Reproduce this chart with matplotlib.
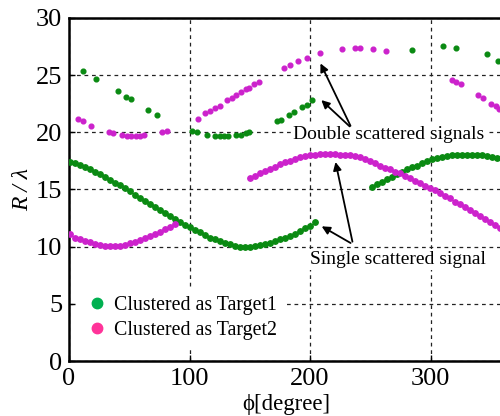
import matplotlib
matplotlib.use("Agg")
import matplotlib.pyplot as plt
from matplotlib.lines import Line2D

# ---- data (phi in degree, R/lambda) ----
# single scattered, target 1 (green), first branch
g1_phi = [0.8, 5, 9.1, 13.3, 17.4, 21.6, 25.7, 29.9, 34, 38.2, 42.3, 46.5, 50.6, 54.8, 58.9,
          63.1, 67.2, 71.4, 75.5, 79.7, 83.8, 88, 92.1, 96.3, 100.4, 104.6, 108.7, 112.9, 117,
          121.2, 125.3, 129.5, 133.6, 137.8, 141.9, 146, 150.2, 154.4, 158.5, 162.7, 166.8,
          171, 175.1, 179.3, 183.4, 187.6, 191.7, 195.9, 200, 204.2]
g1_r = [17.43, 17.3, 17.1, 16.94, 16.77, 16.55, 16.35, 16.08, 15.85, 15.6, 15.38, 15.1, 14.83,
        14.55, 14.27, 13.98, 13.7, 13.45, 13.2, 12.97, 12.7, 12.4, 12.2, 11.9, 11.7, 11.46,
        11.26, 11.0, 10.8, 10.64, 10.5, 10.35, 10.2, 10.09, 10.0, 9.96, 10.0, 10.06, 10.15,
        10.23, 10.35, 10.5, 10.64, 10.8, 10.95, 11.14, 11.37, 11.6, 11.85, 12.15]

# single scattered, target 1 (green), second branch
g2_phi = [251.2, 255.3, 259.5, 263.6, 267.8, 271.9, 276.1, 280.2, 284.4, 288.5, 292.7, 296.8,
          301, 305.1, 309.3, 313.4, 317.6, 321.7, 325.9, 330, 334.2, 338.4, 342.5, 346.6,
          350.8, 354.9]
g2_r = [15.25, 15.48, 15.68, 15.9, 16.1, 16.33, 16.56, 16.77, 16.94, 17.08, 17.3, 17.47, 17.64,
        17.73, 17.82, 17.93, 18.0, 18.02, 18.04, 18.04, 18.04, 18.04, 18.0, 17.96, 17.87, 17.78]

# single scattered, target 2 (magenta)
m1_phi = [0.8, 5, 9.1, 13.3, 17.4, 21.6, 25.7, 29.9, 34, 38.2, 42.3, 46.5, 50.6, 54.8, 58.9,
          63.1, 67.2, 71.4, 75.5, 79.7, 83.8, 88]
m1_r = [11.08, 10.8, 10.64, 10.5, 10.4, 10.27, 10.18, 10.1, 10.09, 10.09, 10.09, 10.15, 10.3,
        10.45, 10.6, 10.75, 10.93, 11.1, 11.3, 11.52, 11.75, 12.0]

m2_phi = [150.2, 154.4, 158.5, 162.7, 166.8, 171, 175.1, 179.3, 183.4, 187.6, 191.7, 195.9,
          200, 204.2, 208.3, 212.5, 216.6, 220.8, 224.9, 229, 233.2, 237.3, 241.5, 245.6,
          249.8, 253.9, 258.1, 262.2, 266.4, 270.5, 274.7, 278.8, 283, 287.1, 291.3, 295.4,
          299.6, 303.7, 307.9, 312, 316.2, 320.3, 324.5, 328.6, 332.8, 336.9, 341.1, 345.2,
          349.4, 353.5, 357.6]
m2_r = [15.98, 16.2, 16.4, 16.6, 16.8, 17.0, 17.2, 17.38, 17.52, 17.67, 17.8, 17.93, 18.02,
        18.05, 18.06, 18.06, 18.06, 18.06, 18.05, 18.03, 18.0, 17.93, 17.8, 17.67, 17.5, 17.3,
        17.08, 16.9, 16.77, 16.56, 16.4, 16.18, 15.98, 15.77, 15.54, 15.33, 15.16, 14.96,
        14.72, 14.46, 14.23, 13.93, 13.7, 13.5, 13.2, 12.97, 12.68, 12.4, 12.18, 11.9, 11.6]

# double scattered, target 1 (green)
gd_phi = [11.9, 22.4, 40.9, 47.3, 51.7, 65.8, 73.3, 102, 106.5, 114.3, 121, 125, 129, 132,
          139, 142.5, 146.6, 149.6, 172.3, 175.9, 182.8, 186.7, 193.6, 197.3, 201.4, 284.4,
          310.6, 321.2, 346.6, 356.3]
gd_r = [25.4, 24.7, 23.6, 23.1, 22.9, 21.95, 21.5, 20.1, 20.0, 19.77, 19.7, 19.7, 19.7, 19.7,
        19.73, 19.73, 19.97, 20.06, 21.0, 21.1, 21.5, 21.8, 22.25, 22.4, 22.8, 27.2, 27.5,
        27.35, 26.8, 26.2]

# double scattered, target 2 (magenta)
md_phi = [7.7, 11.9, 18.3, 33.2, 36.8, 44.3, 47.9, 51.5, 55.2, 58.9, 62.5, 77.4, 81.1, 106.8,
          112.9, 117, 121.2, 125.3, 131.4, 135.5, 139, 142.5, 146.6, 149.6, 153.8, 157.7,
          178.7, 183.4, 189.8, 197.5, 208.3, 226.3, 237.3, 241.4, 252, 263, 317.6, 321.2,
          325.3, 339.7, 343.8, 350, 354, 356.8]
md_r = [21.2, 21.0, 20.55, 20.06, 19.97, 19.77, 19.7, 19.7, 19.7, 19.7, 19.72, 20.0, 20.1,
        21.2, 21.7, 21.9, 22.1, 22.3, 22.8, 23.0, 23.3, 23.5, 23.8, 23.9, 24.2, 24.4, 25.65,
        25.9, 26.2, 26.5, 26.9, 27.3, 27.4, 27.35, 27.3, 27.1, 24.6, 24.4, 24.2, 23.3, 23.0,
        22.5, 22.3, 22.0]

legend_labels = ["Clustered as Target1", "Clustered as Target2"]

green = "#0a8a12"
magenta = "#cc22cc"
serif = ["Liberation Serif", "DejaVu Serif"]

fig = plt.figure(figsize=(5.0, 4.16), dpi=100)
ax = fig.add_axes([0.138, 0.132, 0.8676, 0.825])

# single scattered curves are a bit denser/bolder than the double scattered dots
for phi, r, c, ms in [(g1_phi, g1_r, green, 3.9), (g2_phi, g2_r, green, 3.9),
                      (gd_phi, gd_r, green, 3.4), (m1_phi, m1_r, magenta, 3.9),
                      (m2_phi, m2_r, magenta, 3.9), (md_phi, md_r, magenta, 3.4)]:
    ax.plot(phi, r, linestyle="none", marker="o", ms=ms, color=c, mec=c, zorder=3)

ax.set_xlim(0, 360)
ax.set_ylim(0, 30)
ax.set_xticks([0, 100, 200, 300])
ax.set_yticks([0, 5, 10, 15, 20, 25, 30])
ax.tick_params(direction="in", length=4, width=1, labelsize=19, pad=5)
for lab in ax.get_xticklabels() + ax.get_yticklabels():
    lab.set_family(serif)
ax.grid(True, color="#222222", linestyle=(0, (3, 3)), linewidth=0.9)
for s in ax.spines.values():
    s.set_linewidth(1.8)

ax.set_xlabel("ϕ[degree]", family=serif, fontsize=16.5, labelpad=3)
ax.set_ylabel("R / λ", family=serif, style="italic", fontsize=17, labelpad=2)

box = dict(facecolor="white", edgecolor="none", pad=1.5)
arrow = dict(arrowstyle="-|>", color="black", lw=1.3, mutation_scale=12)

ax.text(265.6, 19.77, "Double scattered signals", ha="center", va="center",
        family=serif, fontsize=14, bbox=box, zorder=4)
ax.annotate("", xy=(207.7, 26.24), xytext=(234.6, 20.35), arrowprops=arrow, zorder=5)
ax.annotate("", xy=(207.7, 22.98), xytext=(234.6, 20.35), arrowprops=arrow, zorder=5)

ax.text(273, 8.9, "Single scattered signal", ha="center", va="center",
        family=serif, fontsize=14, bbox=box, zorder=4)
ax.annotate("", xy=(207.7, 11.9), xytext=(235.7, 10.2), arrowprops=arrow, zorder=5)
ax.annotate("", xy=(220.7, 17.64), xytext=(235.7, 10.2), arrowprops=arrow, zorder=5)

handles = [Line2D([], [], linestyle="none", marker="o", ms=7.5, color="#00b050"),
           Line2D([], [], linestyle="none", marker="o", ms=7.5, color="#ff3399")]
leg = ax.legend(handles, legend_labels, loc="center left", bbox_to_anchor=(-0.004, 0.125),
                frameon=True, facecolor="white", edgecolor="none", framealpha=1,
                prop={"family": serif, "size": 14.3}, handletextpad=0.25,
                borderpad=0.4, labelspacing=0.3, handlelength=1.2)
leg.set_zorder(6)

fig.savefig("out.png", dpi=100)
